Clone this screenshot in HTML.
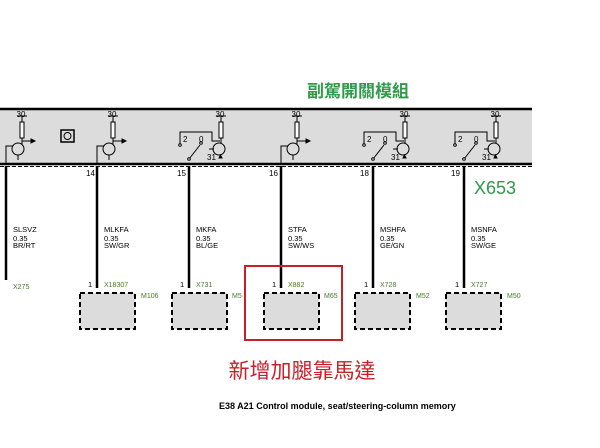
<!DOCTYPE html>
<html><head><meta charset="utf-8"><style>body{margin:0;background:#fff}svg{display:block}</style></head><body>
<svg width="600" height="448" viewBox="0 0 600 448" xmlns="http://www.w3.org/2000/svg" font-family="Liberation Sans, sans-serif">
<rect width="600" height="448" fill="#fff"/>
<text x="358" y="97" font-size="17" font-weight="bold" fill="#2e9a4a" text-anchor="middle" font-family="Liberation Sans, Noto Sans CJK TC, sans-serif">副駕開關模組</text>
<rect x="0" y="109" width="532" height="55" fill="#dcdcdc"/>
<line x1="0" y1="109" x2="532" y2="109" stroke="#000" stroke-width="2.5"/>
<line x1="0" y1="164" x2="532" y2="164" stroke="#000" stroke-width="2.5"/>
<line x1="0" y1="166.5" x2="532" y2="166.5" stroke="#000" stroke-width="1" stroke-dasharray="4,2"/>
<g stroke="#000" fill="none" stroke-width="1">
<g id="t1">
<line x1="22" y1="116" x2="22" y2="122"/><line x1="17" y1="116" x2="27" y2="116"/>
<rect x="20" y="122" width="4" height="16" fill="#fff"/>
<line x1="22" y1="138" x2="22" y2="145"/>
<circle cx="18" cy="149" r="6"/>
<line x1="22" y1="141" x2="34" y2="141"/><path d="M31 139 L35 141 L31 143Z" fill="#000"/>
<line x1="18" y1="155" x2="18" y2="160"/>
<polyline points="6,164 6,146 13,146"/>
</g>
<use href="#t1" x="91"/>
<use href="#t1" x="275"/>
<rect x="61" y="130" width="13" height="12" stroke-width="1.5"/>
<circle cx="67.5" cy="136" r="3.5"/>
<g id="s1">
<line x1="221" y1="116" x2="221" y2="122"/><line x1="216" y1="116" x2="226" y2="116"/>
<rect x="219" y="122" width="4" height="16" fill="#fff"/>
<line x1="221" y1="138" x2="221" y2="143"/>
<circle cx="219" cy="149" r="6"/>
<line x1="209" y1="149" x2="214" y2="149"/>
<polyline points="180,145 180,132 212,132 212,141 220,141"/>
<line x1="189" y1="159" x2="200" y2="145"/>
<circle cx="180" cy="145" r="1.3" fill="#fff"/><circle cx="201" cy="143" r="1.3" fill="#fff"/><circle cx="189" cy="159" r="1.3" fill="#fff"/>
<path d="M219 158 L222 158 L220.5 155Z" fill="#000"/>
</g>
<use href="#s1" x="184"/>
<use href="#s1" x="275"/>
</g>
<g font-size="8" fill="#000">
<text x="21" y="117" text-anchor="middle">30</text><text x="112" y="117" text-anchor="middle">30</text><text x="296" y="117" text-anchor="middle">30</text>
<text x="220" y="117" text-anchor="middle">30</text><text x="404" y="117" text-anchor="middle">30</text><text x="495" y="117" text-anchor="middle">30</text>
<g id="l1"><text x="183" y="142">2</text><text x="199" y="142">0</text><text x="207" y="160">31</text></g>
<use href="#l1" x="184"/><use href="#l1" x="275"/>
<text x="86" y="176">14</text><text x="177" y="176">15</text><text x="269" y="176">16</text><text x="360" y="176">18</text><text x="451" y="176">19</text>
</g>
<text x="474" y="194" font-size="18" fill="#2e9a4a">X653</text>
<g stroke="#000" stroke-width="2.5">
<line x1="6" y1="166" x2="6" y2="280"/><line x1="97" y1="166" x2="97" y2="288"/><line x1="189" y1="166" x2="189" y2="288"/>
<line x1="281" y1="166" x2="281" y2="288"/><line x1="373" y1="166" x2="373" y2="288"/><line x1="464" y1="166" x2="464" y2="288"/>
</g>
<g font-size="7.5" fill="#000">
<text x="13" y="232">SLSVZ</text><text x="13" y="241">0.35</text><text x="13" y="248">BR/RT</text>
<text x="104" y="232">MLKFA</text><text x="104" y="241">0.35</text><text x="104" y="248">SW/GR</text>
<text x="196" y="232">MKFA</text><text x="196" y="241">0.35</text><text x="196" y="248">BL/GE</text>
<text x="288" y="232">STFA</text><text x="288" y="241">0.35</text><text x="288" y="248">SW/WS</text>
<text x="380" y="232">MSHFA</text><text x="380" y="241">0.35</text><text x="380" y="248">GE/GN</text>
<text x="471" y="232">MSNFA</text><text x="471" y="241">0.35</text><text x="471" y="248">SW/GE</text>
<text x="88" y="287">1</text><text x="180" y="287">1</text><text x="272" y="287">1</text><text x="364" y="287">1</text><text x="455" y="287">1</text>
</g>
<g font-size="7" fill="#4a7a2a">
<text x="13" y="289">X275</text><text x="104" y="287">X18307</text><text x="196" y="287">X731</text><text x="288" y="287">X882</text><text x="380" y="287">X728</text><text x="471" y="287">X727</text>
<text x="141" y="298">M106</text><text x="232" y="298">M5</text><text x="324" y="298">M65</text><text x="416" y="298">M52</text><text x="507" y="298">M50</text>
</g>
<g fill="#dcdcdc" stroke="#000" stroke-width="2" stroke-dasharray="5,3">
<rect x="80" y="293" width="55" height="36"/><rect x="172" y="293" width="55" height="36"/><rect x="264" y="293" width="55" height="36"/>
<rect x="355" y="293" width="55" height="36"/><rect x="446" y="293" width="55" height="36"/>
</g>
<rect x="245" y="266" width="97" height="74" fill="none" stroke="#c8202a" stroke-width="2"/>
<text x="302" y="378" font-size="21" fill="#c8202a" text-anchor="middle" font-family="Liberation Sans, Noto Sans CJK TC, sans-serif">新增加腿靠馬達</text>
<text x="219" y="409" font-size="9" font-weight="bold" fill="#000">E38 A21 Control module, seat/steering-column memory</text>
</svg>
</body></html>
